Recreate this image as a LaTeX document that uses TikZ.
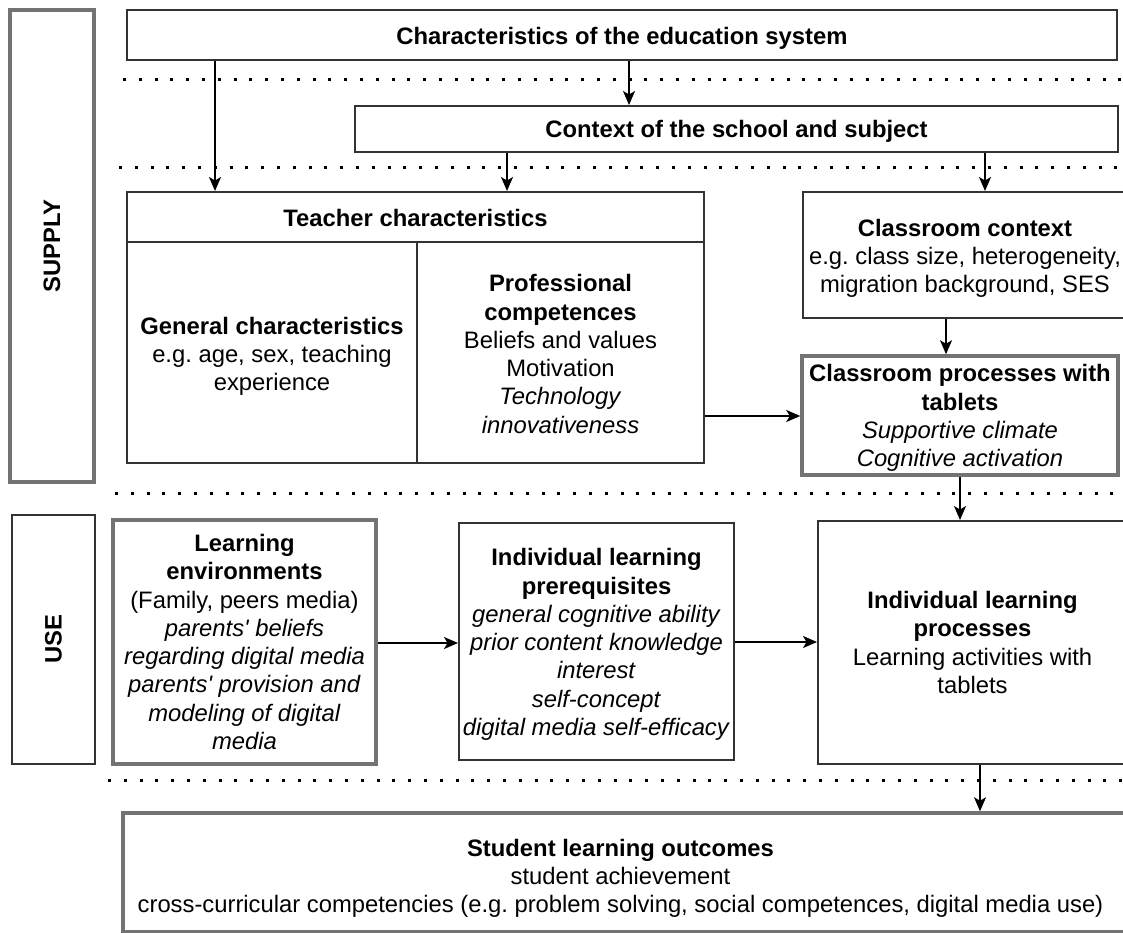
\documentclass[tikz,border=0pt]{standalone}
\usepackage{fontspec}
\setmainfont{Liberation Sans}
\usetikzlibrary{arrows.meta}

\newcommand\diagfont{\fontsize{23.8}{28.3}\selectfont\frenchspacing}
\newcommand\apos{\textquotesingle}

\begin{document}
\begin{tikzpicture}[x=1pt,y=-1pt,
  every node/.style={font=\diagfont, align=center, inner sep=0pt, text=black},
  box/.style={draw=black!80, line width=2pt},
  greybox/.style={draw=black!55, line width=3.5pt},
  bold/.style={font=\diagfont\bfseries},
  arr/.style={-{Stealth[length=14pt,width=12pt,inset=3.5pt]}, line width=1.5pt},
  sep/.style={line width=3pt, dash pattern=on 3pt off 12.8pt},
]
\useasboundingbox (0,0) rectangle (1123,933);

% side labels for the two levels
\node[greybox, rotate=90, minimum width=472pt, minimum height=84pt, bold] (supply) at (52,246) {SUPPLY};
\node[box, rotate=90, minimum width=249pt, minimum height=83pt, bold] (use) at (53.5,639.5) {USE};

% supply level: frames
\node[box, minimum width=990pt, minimum height=50pt] (edu) at (622,35) {};
\node[box, minimum width=763pt, minimum height=46pt] (ctx) at (736.5,129) {};
\node[box, minimum width=577pt, minimum height=50pt] (teachhead) at (415.5,217) {};
\node[box, minimum width=290pt, minimum height=221pt] (gen) at (272,352.5) {};
\node[box, minimum width=287pt, minimum height=221pt] (prof) at (560.5,352.5) {};
\node[box, minimum width=324pt, minimum height=126pt] (cctx) at (965,255) {};
\node[greybox, minimum width=316pt, minimum height=119pt] (proc) at (960,415.5) {};

% supply level: texts
\node[bold] (edu-t) at ([yshift=-3pt]edu.center) {Characteristics of the education system};
\node[bold] (ctx-t) at ([yshift=-2pt]ctx.center) {Context of the school and subject};
\node[bold] (teachhead-t) at ([yshift=-1pt]teachhead.center) {Teacher characteristics};
\node (gen-t) at ([yshift=-4pt]gen.center)
  {\textbf{General characteristics}\\ e.g. age, sex, teaching\\ experience};
\node (prof-t) at ([yshift=-1.5pt]prof.center)
  {\textbf{Professional}\\ \textbf{competences}\\ Beliefs and values\\ Motivation\\ \textit{Technology}\\ \textit{innovativeness}};
\node (cctx-t) at ([yshift=-3.5pt]cctx.center)
  {\textbf{Classroom context}\\ e.g. class size, heterogeneity,\\ migration background, SES};
\node (proc-t) at ([yshift=-2.5pt]proc.center)
  {\textbf{Classroom processes with}\\ \textbf{tablets}\\ \textit{Supportive climate}\\ \textit{Cognitive activation}};

% use level
\node[greybox, minimum width=263pt, minimum height=244pt] (le) at (244.5,642) {};
\node[box, minimum width=275pt, minimum height=237pt] (ilp) at (596.5,641.5) {};
\node[box, minimum width=309pt, minimum height=243pt] (ilproc) at (972.5,642.5) {};

\node (le-t) at (le.center)
  {\textbf{Learning}\\ \textbf{environments}\\ (Family, peers media)\\ \textit{parents\apos{} beliefs}\\ \textit{regarding digital media}\\ \textit{parents\apos{} provision and}\\ \textit{modeling of digital}\\ \textit{media}};
\node (ilp-t) at ([yshift=-3pt]ilp.center)
  {\textbf{Individual learning}\\ \textbf{prerequisites}\\ \textit{general cognitive ability}\\ \textit{prior content knowledge}\\ \textit{interest}\\ \textit{self-concept}\\ \textit{digital media self-efficacy}};
\node (ilproc-t) at (ilproc.center)
  {\textbf{Individual learning}\\ \textbf{processes}\\ Learning activities with\\ tablets};

% outcomes
\node[greybox, minimum width=1005pt, minimum height=119pt] (out) at (625.5,872.5) {};
\node (out-t) at ([xshift=-5pt,yshift=-6pt]out.center)
  {\textbf{Student learning outcomes}\\ student achievement\\ cross-curricular competencies (e.g. problem solving, social competences, digital media use)};

% dotted separators between levels
\draw[sep] (123,80) -- (1123,80);
\draw[sep] (119,168) -- (1123,168);
\draw[sep] (115,493) -- (1123,493);
\draw[sep] (108,780) -- (1123,780);

% connectors
\draw[arr] (215,0 |- edu.south) -- (215,0 |- teachhead.north);
\draw[arr] (629,0 |- edu.south) -- (629,0 |- ctx.north);
\draw[arr] (507,0 |- ctx.south) -- (507,0 |- teachhead.north);
\draw[arr] (985,0 |- ctx.south) -- (985,0 |- cctx.north);
\draw[arr] (946,0 |- cctx.south) -- (946,0 |- proc.north);
\draw[arr] (prof.east |- 0,416) -- (proc.west |- 0,416);
\draw[arr] (960,0 |- proc.south) -- (960,0 |- ilproc.north);
\draw[arr] (le.east |- 0,643) -- (ilp.west |- 0,643);
\draw[arr] (ilp.east |- 0,642) -- (ilproc.west |- 0,642);
\draw[arr] (980,0 |- ilproc.south) -- (980,0 |- out.north);
\end{tikzpicture}
\end{document}
